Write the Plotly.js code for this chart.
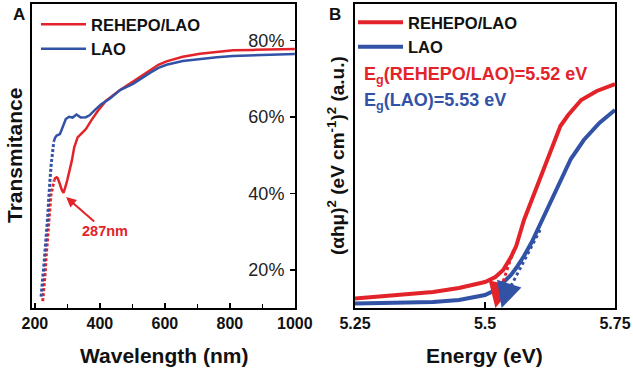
<!DOCTYPE html>
<html><head><meta charset="utf-8">
<script src="https://cdn.plot.ly/plotly-3.0.1.min.js"></script>
<style>html,body{margin:0;padding:0;background:#fff;}#chart{width:633px;height:368px;}</style>
</head><body><div id="chart"></div>
<script>
// ---- Panel A: transmittance (wavelength nm, %)
var redSteepX = [224, 228.6, 231.7, 233.8, 236.9, 240, 242.2, 245.2, 249.2, 254.5, 259.4];
var redSteepY = [11.8, 15.7, 19.2, 22.6, 26.1, 29.5, 33, 36.4, 39.5, 41.6, 43.4];
var redMainX = [259.4, 262, 266.8, 270, 274.8, 279, 283, 288, 291, 295.4, 300, 305.5, 313.8, 321, 331.4, 346.8, 357, 373, 394, 419, 440, 462, 502, 530, 554, 580, 605, 630, 655, 708, 760, 810, 870, 930, 1000];
var redMainY = [43.4, 43.9, 44.2, 44, 42.9, 41.8, 40.8, 40.1, 40.8, 42.1, 43.6, 45.5, 48.6, 52, 54.6, 55.9, 56.8, 59, 61.6, 64.2, 65.5, 67, 69.2, 70.8, 72.3, 73.6, 74.5, 75.2, 75.7, 76.5, 77, 77.4, 77.5, 77.6, 77.7];
var blueSteepX = [219, 223.7, 225.5, 228.6, 231.7, 233.8, 236.9, 240, 242.2, 244, 247, 250.2, 254.5, 258];
var blueSteepY = [13, 16.6, 19.3, 22.2, 25.2, 27.8, 31.3, 34.8, 38.2, 41.3, 44.2, 47.7, 51.2, 53.5];
var blueMainX = [258, 262, 267, 277, 285, 295, 305, 316, 328, 341, 357, 368, 385, 404, 431, 462, 502, 530, 554, 580, 605, 655, 708, 760, 810, 870, 930, 1000];
var blueMainY = [53.5, 54.5, 55.1, 55.5, 57.2, 59.4, 60, 59.8, 60.6, 59.8, 59.9, 60.4, 61.8, 63.3, 64.8, 67, 68.6, 70.2, 71.5, 72.8, 73.6, 74.6, 75.2, 75.6, 75.9, 76.1, 76.2, 76.4];
var aXTicks = [200, 400, 600, 800, 1000];
var aTickVals = [20, 40, 60, 80];
var aTickText = ['20%', '40%', '60%', '80%'];

// ---- Panel B: Tauc plot (energy eV, a.u.)
var redEX = [5.25, 5.30, 5.35, 5.40, 5.45, 5.48, 5.50, 5.52, 5.535, 5.55, 5.56, 5.575, 5.60, 5.625, 5.645, 5.66, 5.685, 5.715, 5.75];
var redEY = [9.5, 11.5, 13.5, 16, 20, 23, 26, 31, 38, 51, 62, 88, 121, 156, 182, 193, 208, 217, 224];
var blueEX = [5.25, 5.30, 5.35, 5.40, 5.45, 5.48, 5.50, 5.52, 5.535, 5.55, 5.56, 5.575, 5.59, 5.61, 5.64, 5.665, 5.69, 5.72, 5.75];
var blueEY = [4.5, 4.8, 5.2, 6, 8, 10.5, 13, 18, 25, 33, 40, 52, 66, 88, 122, 149, 168, 185, 198];
var redTanX = [5.555, 5.527];
var redTanY = [58, 14];
var blueTanX = [5.606, 5.541];
var blueTanY = [78, 13];
var egRed = 5.52, egBlue = 5.532;
var bTickVals = [5.25, 5.5, 5.75];
var bTickText = ['5.25', '5.5', '5.75'];

var RED = '#e3232a', BLUE = '#3252a6';
var FF = 'Liberation Sans, Arial, sans-serif';

var traces = [
  {x: redMainX, y: redMainY, mode: 'lines', name: 'REHEPO/LAO', line: {color: RED, width: 2.5}, legend: 'legend', xaxis: 'x', yaxis: 'y'},
  {x: blueMainX, y: blueMainY, mode: 'lines', name: 'LAO', line: {color: BLUE, width: 2.5}, legend: 'legend', xaxis: 'x', yaxis: 'y3'},
  {x: redSteepX, y: redSteepY, mode: 'lines', showlegend: false, line: {color: RED, width: 3, dash: '3px,2px'}, xaxis: 'x', yaxis: 'y'},
  {x: blueSteepX, y: blueSteepY, mode: 'lines', showlegend: false, line: {color: BLUE, width: 3, dash: '3px,2px'}, xaxis: 'x', yaxis: 'y3'},
  {x: redEX, y: redEY, mode: 'lines', name: 'REHEPO/LAO', line: {color: RED, width: 4}, legend: 'legend2', xaxis: 'x2', yaxis: 'y2'},
  {x: blueEX, y: blueEY, mode: 'lines', name: 'LAO', line: {color: BLUE, width: 4}, legend: 'legend2', xaxis: 'x2', yaxis: 'y2'},
  {x: redTanX, y: redTanY, mode: 'lines', showlegend: false, line: {color: RED, width: 3, dash: '3px,3px'}, xaxis: 'x2', yaxis: 'y2'},
  {x: blueTanX, y: blueTanY, mode: 'lines', showlegend: false, line: {color: BLUE, width: 3, dash: '3px,3px'}, xaxis: 'x2', yaxis: 'y2'}
];

function px(p) { return (p - 32) / 583; }
function py(p) { return (308 - p) / 304; }
function lab(x, y, text, size, color, extra) {
  var a = {xref: 'paper', yref: 'paper', x: px(x), y: py(y), xanchor: 'center', yanchor: 'middle', text: text, showarrow: false,
    font: {family: FF, size: size, color: color, weight: 'bold'}};
  for (var k in (extra || {})) a[k] = extra[k];
  return a;
}
var aRange = [10, 89.5];

var layout = {
  width: 633, height: 368,
  margin: {l: 32, r: 18, t: 4, b: 60},
  paper_bgcolor: '#fff', plot_bgcolor: '#fff',
  font: {family: FF, color: '#111'},
  xaxis: {domain: [0, px(295)], range: [191, 1000.5], tickvals: aXTicks, ticks: 'inside', ticklen: 5, tickwidth: 1.5, tickcolor: '#000',
    minor: {dtick: 100, tick0: 100, ticks: 'inside', ticklen: 4, tickwidth: 1.5, tickcolor: '#000'},
    showline: true, mirror: true, linecolor: '#000', linewidth: 2, showgrid: false, zeroline: false,
    tickfont: {family: FF, size: 16, color: '#111', weight: 'bold'}, anchor: 'y'},
  yaxis: {domain: [0, 1], range: aRange, showticklabels: false, ticks: '', showline: true, mirror: true, linecolor: '#000', linewidth: 2,
    showgrid: false, zeroline: false, anchor: 'x'},
  yaxis3: {overlaying: 'y', anchor: 'free', position: px(295), range: aRange, side: 'left', tickvals: aTickVals, ticktext: aTickText,
    ticklabelstandoff: 2, ticks: 'outside', ticklen: 5, tickwidth: 1.5, tickcolor: '#000', showline: false,
    showgrid: false, zeroline: false, tickfont: {family: FF, size: 18, color: '#222'}},
  xaxis2: {domain: [px(355), 1], range: [5.25, 5.75], tickvals: bTickVals, ticktext: bTickText, ticks: 'inside', ticklen: 6, tickwidth: 1.5, tickcolor: '#000',
    showline: true, mirror: true, linecolor: '#000', linewidth: 2, showgrid: false, zeroline: false,
    tickfont: {family: FF, size: 16, color: '#111', weight: 'bold'}, anchor: 'y2'},
  yaxis2: {domain: [0, 1], range: [0, 304], showticklabels: false, ticks: '', showline: true, mirror: true, linecolor: '#000', linewidth: 2,
    showgrid: false, zeroline: false, anchor: 'x2'},
  legend: {x: px(36), y: py(7), xanchor: 'left', yanchor: 'top', bgcolor: 'rgba(0,0,0,0)',
    itemwidth: 45, font: {family: FF, size: 16.5, color: '#111', weight: 'bold'}},
  legend2: {x: px(353), y: py(5), xanchor: 'left', yanchor: 'top', bgcolor: 'rgba(0,0,0,0)',
    itemwidth: 45, font: {family: FF, size: 16.5, color: '#111', weight: 'bold'}},
  annotations: [
    lab(18.5, 14, 'A', 17, '#111'),
    lab(335, 14, 'B', 17, '#111'),
    lab(14, 156, 'Transmitance', 21, '#111', {textangle: -90}),
    lab(336, 156, '(αhμ)<sup>2</sup> (eV cm<sup>-1</sup>)<sup>2</sup> (a.u.)', 19, '#111', {textangle: -90}),
    lab(164, 355, 'Wavelength (nm)', 21, '#111'),
    lab(484, 355, 'Energy (eV)', 21, '#111'),
    lab(362, 76, 'E<sub>g</sub>(REHEPO/LAO)=5.52 eV', 18, RED, {xanchor: 'left'}),
    lab(362, 102, 'E<sub>g</sub>(LAO)=5.53 eV', 18, BLUE, {xanchor: 'left'}),
    {xref: 'x', yref: 'y', x: 296, y: 39, text: '287nm', showarrow: true, arrowhead: 2, arrowsize: 1, arrowwidth: 2, arrowcolor: RED, ax: 39, ay: 34, font: {family: FF, size: 14.5, color: RED, weight: 'bold'}},
    {xref: 'x2', yref: 'y2', x: egRed, y: 0, axref: 'x2', ayref: 'y2', ax: 5.527, ay: 16, text: '', showarrow: true, arrowhead: 2, arrowsize: 1.7, arrowwidth: 3, arrowcolor: RED},
    {xref: 'x2', yref: 'y2', x: egBlue, y: 0, axref: 'x2', ayref: 'y2', ax: 5.541, ay: 15, text: '', showarrow: true, arrowhead: 2, arrowsize: 1.7, arrowwidth: 3, arrowcolor: BLUE}
  ]
};
Plotly.newPlot('chart', traces, layout, {displayModeBar: false, staticPlot: true});
</script></body></html>
